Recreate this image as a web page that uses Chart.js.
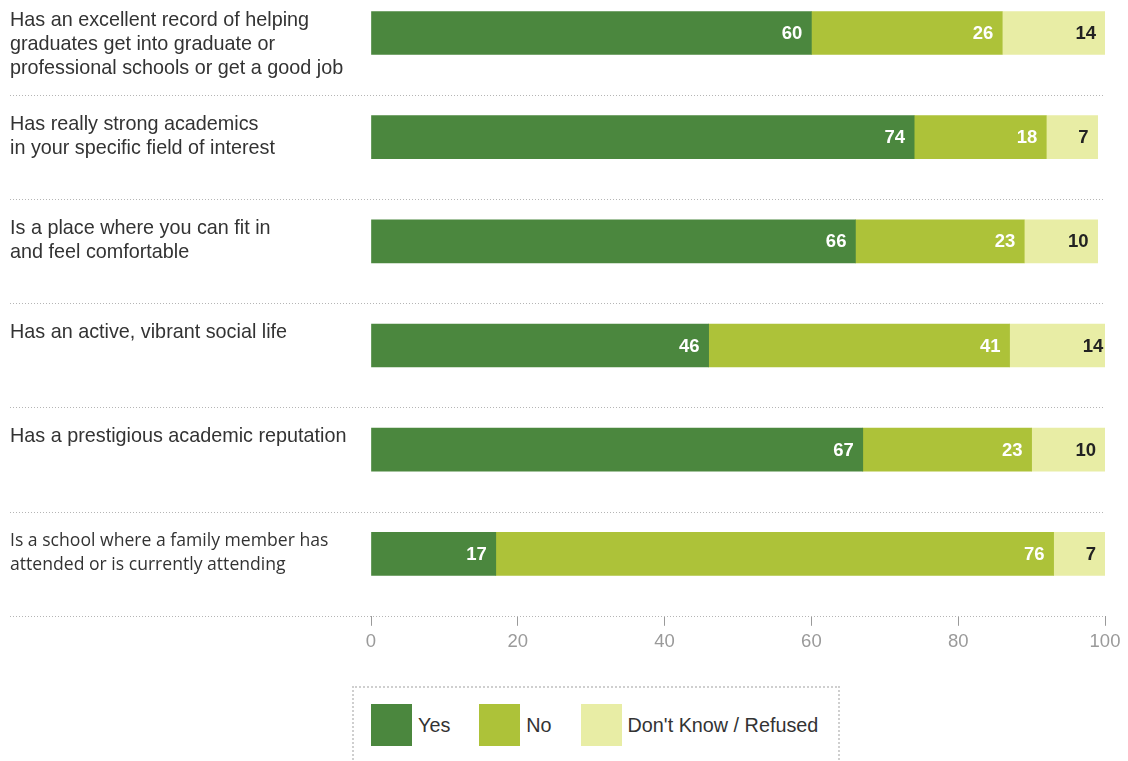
<!DOCTYPE html>
<html>
<head>
<meta charset="utf-8">
<script src="https://cdn.jsdelivr.net/npm/chart.js@4/dist/chart.umd.min.js"></script>
<style>
  body { margin: 0; background: #fff; font-family: "Liberation Sans", Arial, sans-serif; }
  #wrap { position: relative; width: 1128px; height: 761px; overflow: hidden; }
  #chart { position: absolute; left: 0; top: 0; }
  #legend {
    position: absolute; left: 352px; top: 686px; width: 488px; height: 90px;
    border: 2px dotted #cfcfcf; border-bottom: none; box-sizing: border-box;
    display: flex; align-items: center; padding-left: 17px; padding-bottom: 14px;
  }
  .item { display: flex; align-items: center; margin-right: 29px; white-space: nowrap; flex: none; }
  .swatch { width: 41px; height: 42px; margin-right: 6px; }
  .item span { font-size: 19.8px; color: #333; }
</style>
</head>
<body>
<div id="wrap">
  <canvas id="chart" width="1128" height="658"></canvas>
  <div id="legend"></div>
</div>
<script>
"use strict";

// question wording, one entry per row (lines split on \n)
var categories = [
  "Has an excellent record of helping\ngraduates get into graduate or\nprofessional schools or get a good job",
  "Has really strong academics\nin your specific field of interest",
  "Is a place where you can fit in\nand feel comfortable",
  "Has an active, vibrant social life",
  "Has a prestigious academic reputation",
  "Is a school where a family member has\nattended or is currently attending"
];
var seriesNames = ["Yes", "No", "Don't Know / Refused"];
var yesValues = [60, 74, 66, 46, 67, 17];
var noValues = [26, 18, 23, 41, 23, 76];
var dkValues = [14, 7, 10, 14, 10, 7];
var xTicks = [0, 20, 40, 60, 80, 100];

var colors = ["#4b873e", "#adc239", "#e8eda5"];
var labelColors = ["#ffffff", "#ffffff", "#222222"];

function toPoints(arr) {
  return arr.map(function(v, i) { return {x: v, y: i}; });
}

var allSeries = [yesValues, noValues, dkValues];
var datasets = allSeries.map(function(vals, k) {
  return {
    label: seriesNames[k],
    data: toPoints(vals),
    backgroundColor: colors[k],
    borderWidth: 0,
    barThickness: 43
  };
});

//separators, row labels on the left and numbers inside the bars
var rowPlugin = {
  id: 'rows',
  beforeDatasetsDraw: function(chart) {
    var ctx = chart.ctx, y = chart.scales.y;
    ctx.save();
    ctx.strokeStyle = '#b5b5b5';
    ctx.lineWidth = 1;
    ctx.setLineDash([1, 2]);
    for (var i = 0; i < categories.length; i++) {
      var py = Math.round(y.getPixelForValue(i + 0.595)) + 0.5;
      ctx.beginPath();
      ctx.moveTo(10, py);
      ctx.lineTo(chart.chartArea.right, py);
      ctx.stroke();
    }
    ctx.restore();
  },
  afterDatasetsDraw: function(chart) {
    var ctx = chart.ctx, y = chart.scales.y;
    ctx.save();
    ctx.fillStyle = '#333';
    ctx.textAlign = 'left';
    ctx.textBaseline = 'alphabetic';
    categories.forEach(function(txt, i) {
      var top = y.getPixelForValue(i) - 21.5;
      ctx.font = (i === 5) ? '17.6px "Open Sans", sans-serif' : '19.8px "Liberation Sans", Arial, sans-serif';
      txt.split('\n').forEach(function(line, j) {
        ctx.fillText(line, 10, top + 14 + j * 24);
      });
    });
    ctx.font = 'bold 18.5px "Liberation Sans", Arial, sans-serif';
    ctx.textAlign = 'right';
    ctx.textBaseline = 'middle';
    chart.data.datasets.forEach(function(ds, k) {
      chart.getDatasetMeta(k).data.forEach(function(bar, i) {
        ctx.fillStyle = labelColors[k];
        ctx.fillText(String(allSeries[k][i]), bar.x - 9, bar.y + 1);
      });
    });
    ctx.restore();
  }
};

new Chart(document.getElementById('chart'), {
  type: 'bar',
  data: { datasets: datasets },
  options: {
    indexAxis: 'y',
    responsive: false,
    animation: false,
    layout: { padding: { left: 371, right: 23, top: 0, bottom: 0 } },
    plugins: { legend: { display: false }, tooltip: { enabled: false } },
    scales: {
      x: {
        type: 'linear',
        stacked: true,
        min: 0,
        max: 100,
        afterBuildTicks: function(scale) {
          scale.ticks = xTicks.map(function(v) { return {value: v}; });
        },
        border: { display: false },
        grid: { drawOnChartArea: false, drawTicks: true, tickLength: 10, tickColor: '#9a9a9a' },
        ticks: { color: '#9a9a9a', padding: 5, font: { family: '"Liberation Sans", Arial, sans-serif', size: 18.5 } }
      },
      y: {
        type: 'linear',
        stacked: true,
        reverse: true,
        offset: false,
        grid: { offset: false },
        min: -0.317,
        max: 5.595,
        display: false
      }
    }
  },
  plugins: [rowPlugin]
});

// html legend
var legend = document.getElementById('legend');
seriesNames.forEach(function(name, k) {
  var item = document.createElement('div');
  item.className = 'item';
  item.innerHTML = '<div class="swatch" style="background:' + colors[k] + '"></div><span>' + name + '</span>';
  legend.appendChild(item);
});
</script>
</body>
</html>
